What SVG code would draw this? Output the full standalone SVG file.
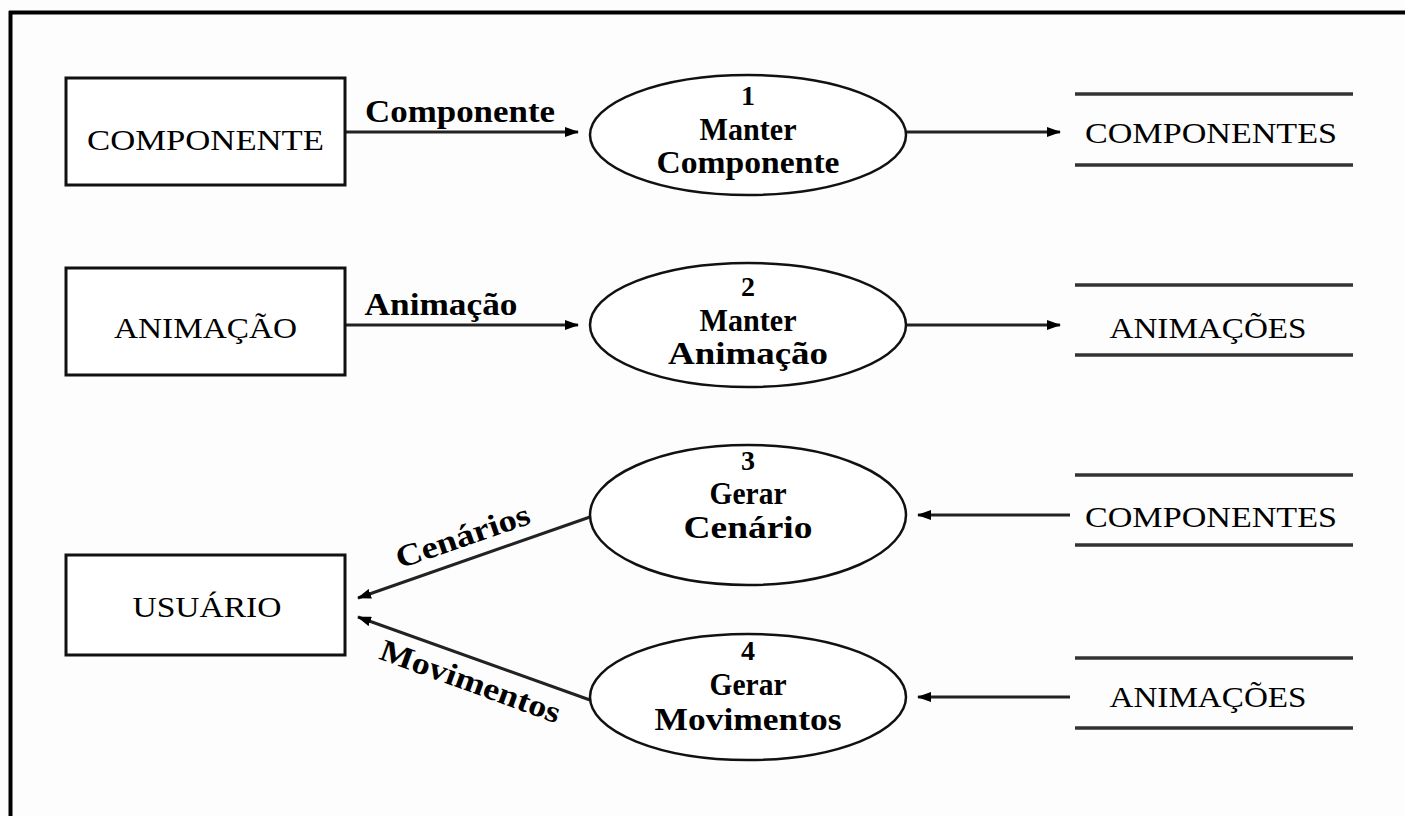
<svg xmlns="http://www.w3.org/2000/svg" width="1405" height="816" viewBox="0 0 1405 816">
<defs>
<marker id="ah" markerWidth="14" markerHeight="10" refX="13" refY="5" orient="auto" markerUnits="userSpaceOnUse">
<path d="M0,0 L14,5 L0,10 Z" fill="#000"/>
</marker>
<style>
.box{fill:#fff;stroke:#111;stroke-width:3}
.proc{fill:#fff;stroke:#111;stroke-width:2.5}
.store{stroke:#333;stroke-width:3.5}
.flow{stroke:#222;stroke-width:3;fill:none;marker-end:url(#ah)}
.t{font-family:"Liberation Serif","Times New Roman",serif;font-size:30px;fill:#000;text-anchor:middle}
.b{font-family:"Liberation Serif","Times New Roman",serif;font-size:31px;font-weight:bold;fill:#000;text-anchor:middle}
.n{font-family:"Liberation Serif","Times New Roman",serif;font-size:28px;font-weight:bold;fill:#000;text-anchor:middle}
</style>
</defs>
<rect width="1405" height="816" fill="#fdfdfd"/>
<g id="frame">
<line x1="9" y1="12.5" x2="1405" y2="12.5" stroke="#000" stroke-width="4"/>
<line x1="10.5" y1="11" x2="10.5" y2="816" stroke="#000" stroke-width="4"/>
</g>
<g id="connectors">
<line class="flow" x1="345" y1="132" x2="578" y2="132"/>
<line class="flow" x1="906" y1="132" x2="1060" y2="132"/>
<line class="flow" x1="345" y1="325" x2="578" y2="325"/>
<line class="flow" x1="906" y1="325" x2="1060" y2="325"/>
<line class="flow" x1="1070" y1="515" x2="918" y2="515"/>
<line class="flow" x1="1070" y1="697" x2="918" y2="697"/>
<line class="flow" x1="590" y1="517" x2="358" y2="598"/>
<line class="flow" x1="590" y1="700" x2="358" y2="617"/>
<text class="b" x="460" y="122" textLength="190" lengthAdjust="spacingAndGlyphs">Componente</text>
<text class="b" x="441" y="315" textLength="153" lengthAdjust="spacingAndGlyphs">Animação</text>
<text class="b" x="466" y="546" transform="rotate(-19 466 546)" textLength="140" lengthAdjust="spacingAndGlyphs">Cenários</text>
<text class="b" x="467" y="691" transform="rotate(20 467 691)" textLength="190" lengthAdjust="spacingAndGlyphs">Movimentos</text>
</g>
<g id="componente">
<rect class="box" x="66" y="78" width="279" height="107"/>
<text class="t" x="205.5" y="150" textLength="237" lengthAdjust="spacingAndGlyphs">COMPONENTE</text>
</g>
<g id="animacao">
<rect class="box" x="66" y="268" width="279" height="107"/>
<text class="t" x="205.5" y="338" textLength="183" lengthAdjust="spacingAndGlyphs">ANIMAÇÃO</text>
</g>
<g id="usuario">
<rect class="box" x="66" y="555" width="279" height="100"/>
<text class="t" x="207" y="617" textLength="149" lengthAdjust="spacingAndGlyphs">USUÁRIO</text>
</g>
<g id="p1">
<ellipse class="proc" cx="748" cy="135" rx="158" ry="60"/>
<text class="n" x="748" y="105">1</text>
<text class="b" x="748" y="140" textLength="97" lengthAdjust="spacingAndGlyphs">Manter</text>
<text class="b" x="748" y="173" textLength="183" lengthAdjust="spacingAndGlyphs">Componente</text>
</g>
<g id="p2">
<ellipse class="proc" cx="748" cy="325" rx="158" ry="62"/>
<text class="n" x="748" y="296">2</text>
<text class="b" x="748" y="331" textLength="97" lengthAdjust="spacingAndGlyphs">Manter</text>
<text class="b" x="748" y="364" textLength="160" lengthAdjust="spacingAndGlyphs">Animação</text>
</g>
<g id="p3">
<ellipse class="proc" cx="748" cy="515" rx="158" ry="70"/>
<text class="n" x="748" y="470">3</text>
<text class="b" x="748" y="504" textLength="77" lengthAdjust="spacingAndGlyphs">Gerar</text>
<text class="b" x="748" y="538" textLength="129" lengthAdjust="spacingAndGlyphs">Cenário</text>
</g>
<g id="p4">
<ellipse class="proc" cx="748" cy="697" rx="158" ry="63"/>
<text class="n" x="748" y="660">4</text>
<text class="b" x="748" y="695" textLength="77" lengthAdjust="spacingAndGlyphs">Gerar</text>
<text class="b" x="748" y="730" textLength="187" lengthAdjust="spacingAndGlyphs">Movimentos</text>
</g>
<g id="store1">
<line class="store" x1="1075" y1="94" x2="1353" y2="94"/>
<line class="store" x1="1075" y1="165" x2="1353" y2="165"/>
<text class="t" x="1211" y="143" textLength="252" lengthAdjust="spacingAndGlyphs">COMPONENTES</text>
</g>
<g id="store2">
<line class="store" x1="1075" y1="285" x2="1353" y2="285"/>
<line class="store" x1="1075" y1="355" x2="1353" y2="355"/>
<text class="t" x="1208" y="338" textLength="197" lengthAdjust="spacingAndGlyphs">ANIMAÇÕES</text>
</g>
<g id="store3">
<line class="store" x1="1075" y1="475" x2="1353" y2="475"/>
<line class="store" x1="1075" y1="545" x2="1353" y2="545"/>
<text class="t" x="1211" y="527" textLength="252" lengthAdjust="spacingAndGlyphs">COMPONENTES</text>
</g>
<g id="store4">
<line class="store" x1="1075" y1="658" x2="1353" y2="658"/>
<line class="store" x1="1075" y1="728" x2="1353" y2="728"/>
<text class="t" x="1208" y="707" textLength="197" lengthAdjust="spacingAndGlyphs">ANIMAÇÕES</text>
</g>
</svg>
